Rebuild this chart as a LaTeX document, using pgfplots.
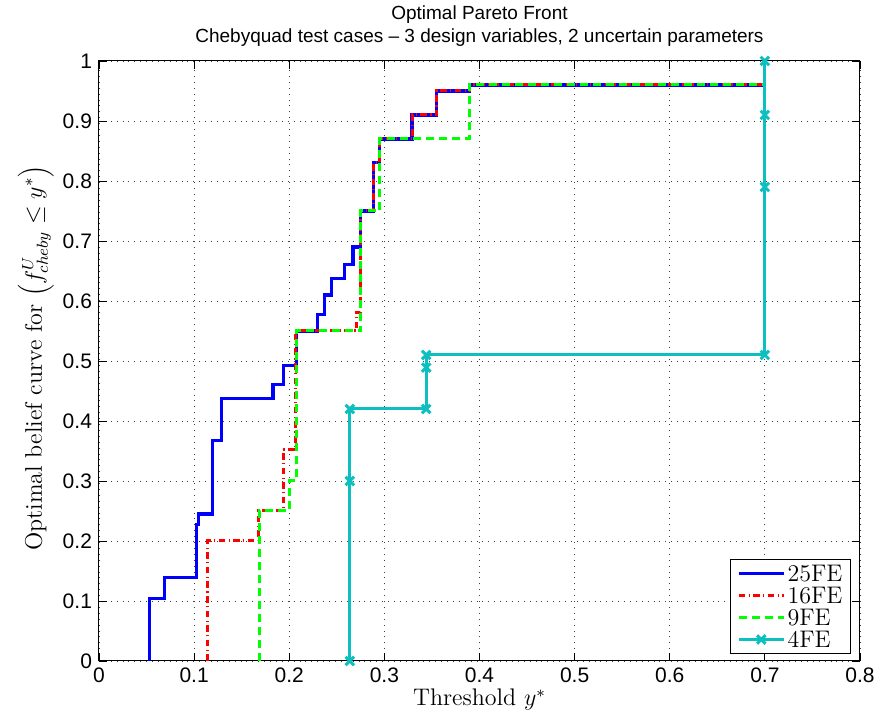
\documentclass[border=0pt]{standalone}
\usepackage{fontspec}
\usepackage{pgfplots}
\pgfplotsset{compat=1.18}
\newfontfamily\arial{Liberation Sans}
\definecolor{mcyan}{rgb}{0.05,0.75,0.75}
\begin{document}
\begin{tikzpicture}
\useasboundingbox (-49.5pt,-30.5pt) rectangle (390.5pt,330.5pt);
\begin{axis}[
  at={(0,0)}, anchor=south west,
  scale only axis, width=380.5pt, height=300pt,
  xmin=0, xmax=0.8, ymin=0, ymax=1,
  xtick={0,0.1,...,0.8}, ytick={0,0.1,...,1},
  xticklabels={0,0.1,0.2,0.3,0.4,0.5,0.6,0.7,0.8},
  yticklabels={0,0.1,0.2,0.3,0.4,0.5,0.6,0.7,0.8,0.9,1},
  tick align=inside, major tick length=4pt,
  tick style={black, line width=0.4pt},
  axis line style={black, line width=0.5pt},
  grid=major,
  major grid style={black!75, line width=0.45pt, dash pattern=on 0.45pt off 2.5pt},
  ticklabel style={font=\arial\fontsize{10.5}{12}\selectfont},
  /pgf/number format/assume math mode=true,
  title={Optimal Pareto Front\\Chebyquad test cases – 3 design variables, 2 uncertain parameters},
  title style={font=\arial\fontsize{9.5}{11.5}\selectfont, align=center, at={(axis description cs:0.5,1)}, anchor=south, yshift=-2.5pt},
  xlabel={Threshold $y^*$},
  ylabel={Optimal belief curve for $\left(f^{U}_{cheby}\leq y^*\right)$},
  label style={font=\fontsize{12}{14}\selectfont},
  xlabel style={at={(axis description cs:0.5,-0.065)}, anchor=center},
  ylabel style={at={(axis description cs:-0.083,0.505)}, anchor=center},
  legend style={at={(axis description cs:1,0)}, anchor=south east, xshift=-4.5pt, yshift=3.5pt,
    font=\fontsize{12}{12}\selectfont, draw=black, line width=0.5pt, fill=white,
    inner xsep=3pt, inner ysep=1.5pt, row sep=0pt,
    nodes={inner sep=1pt, text height=8.6pt, text depth=0.4pt}},
  legend cell align=left,
  legend image code/.code={\draw[mark repeat=2,mark phase=2] plot coordinates {(0cm,0cm)(0.4cm,0cm)(0.8cm,0cm)};},
]
% 25FE
\addplot[const plot, blue, line width=1.6pt] coordinates {
(0.0528,0) (0.0528,0.1045) (0.0686,0.1395) (0.1026,0.228) (0.1043,0.245) (0.119,0.368)
(0.129,0.437) (0.183,0.461) (0.1936,0.492) (0.2077,0.55) (0.2297,0.578) (0.2374,0.61)
(0.2444,0.638) (0.2584,0.661) (0.2671,0.69) (0.2752,0.75) (0.2889,0.831) (0.2952,0.87)
(0.3291,0.91) (0.355,0.95) (0.3897,0.96) (0.7,0.96)};
\addlegendentry{25FE}
% 16FE
\addplot[const plot, red, line width=1.5pt, dash pattern=on 3.3pt off 1.7pt on 0.6pt off 1.7pt] coordinates {
(0.1138,0) (0.1138,0.2) (0.1674,0.25) (0.1936,0.352) (0.2066,0.55) (0.2707,0.581)
(0.2752,0.75) (0.2889,0.831) (0.2952,0.87) (0.3291,0.91) (0.355,0.95) (0.3897,0.96) (0.7,0.96)};
\addlegendentry{16FE}
% 9FE
\addplot[const plot, green, line width=1.5pt, dash pattern=on 4pt off 2.5pt] coordinates {
(0.1684,0) (0.1684,0.25) (0.2,0.30) (0.2077,0.55) (0.2752,0.75) (0.2952,0.87) (0.3897,0.96) (0.7,0.96)};
\addlegendentry{9FE}
% 4FE
\addplot[mcyan, line width=1.5pt, mark=x, mark size=3pt, mark options={line width=1.5pt}] coordinates {
(0.2637,0) (0.2637,0.3) (0.2637,0.42) (0.344,0.42) (0.344,0.489) (0.344,0.51)
(0.7,0.51) (0.7,0.79) (0.7,0.91) (0.7,1.0)};
\addlegendentry{4FE}
\end{axis}
\end{tikzpicture}
\end{document}
